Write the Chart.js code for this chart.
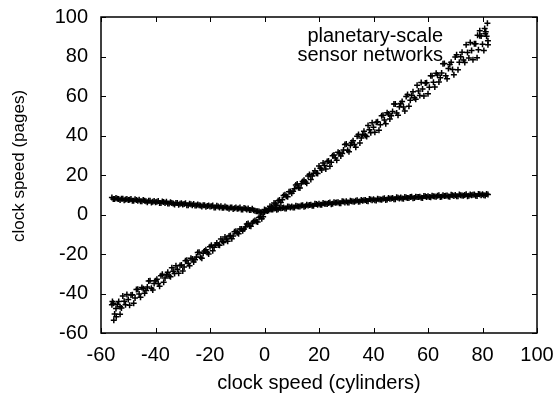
<!DOCTYPE html>
<html>
<head>
<meta charset="utf-8">
<script src="https://cdn.jsdelivr.net/npm/chart.js@4.4.1/dist/chart.umd.min.js"></script>
<style>
  html, body { margin: 0; padding: 0; background: #fff; }
  #wrap { width: 557px; height: 394px; position: relative; }
</style>
</head>
<body>
<div id="wrap"><canvas id="plot"></canvas></div>
<script>
// flat "V" shaped band
const lowX = [-56,-55,-54,-53,-52,-51,-50,-49,-48,-47,-46,-45,-44,-43,-42,-41,-40,-39,-38,-37,
  -36,-35,-34,-33,-32,-31,-30,-29,-28,-27,-26,-25,-24,-23,-22,-21,-20,-19,-18,-17,
  -16,-15,-14,-13,-12,-11,-10,-9,-8,-7,-6,-5,-4,-3,-2,-1,
  0,1,2,3,4,5,6,7,8,9,10,11,12,13,14,15,16,17,18,19,20,21,22,23,24,25,26,27,28,29,
  30,31,32,33,34,35,36,37,38,39,40,41,42,43,44,45,46,47,48,49,50,51,52,53,54,55,56,57,58,59,
  60,61,62,63,64,65,66,67,68,69,70,71,72,73,74,75,76,77,78,79,80,81,82];
const lowY = [8.6,7.8,8.0,7.3,8.0,7.6,7.3,7.9,6.9,7.4, 7.5,6.7,6.9,6.2,6.9,6.5,6.2,6.8,5.8,6.3,
  6.4,5.6,5.8,5.1,5.8,5.4,5.1,5.7,4.7,5.2, 5.3,4.5,4.7,4.0,4.7,4.3,4.0,4.6,3.6,4.1,
  4.2,3.4,3.6,2.9,3.6,3.2,2.9,3.5,2.5,3.0, 3.1,2.3,2.2,1.6,1.5,1.0,
  2.5,2.0,2.6,2.5,3.2,2.7,3.2,3.5,3.0,3.9, 4.1,3.5,4.2,4.0,4.7,4.2,4.6,5.0,4.4,5.3,
  5.5,4.9,5.5,5.3,6.1,5.5,5.9,6.2,5.7,6.6, 6.7,6.1,6.7,6.5,7.2,6.6,7.0,7.3,6.7,7.6,
  7.7,7.1,7.7,7.5,8.2,7.6,8.0,8.3,7.7,8.5, 8.6,8.0,8.6,8.4,9.0,8.4,8.8,9.0,8.4,9.3,
  9.3,8.7,9.3,9.0,9.7,9.0,9.4,9.6,9.0,9.8, 9.9,9.2,9.8,9.5,10.2,9.5,9.8,10.1,9.4,10.2,
  10.3,9.6,10.1];
const lowHalfX = [-55.5,-54.5,-53.5,-52.5,-51.5,-50.5,-49.5,-48.5,-47.5,-46.5,
  -45.5,-44.5,-43.5,-42.5,-41.5,-40.5,-39.5,-38.5,-37.5,-36.5,
  -35.5,-34.5,-33.5,-32.5,-31.5,-30.5,-29.5,-28.5,-27.5,-26.5,
  -25.5,-24.5,-23.5,-22.5,-21.5,-20.5,-19.5,-18.5,-17.5,-16.5,
  -15.5,-14.5,-13.5,-12.5,-11.5,-10.5,-9.5,-8.5,-7.5,-6.5,
  -5.5,-4.5,-3.5,-2.5,-1.5,-0.5,
  0.5,1.5,2.5,3.5,4.5,5.5,6.5,7.5,8.5,9.5, 10.5,11.5,12.5,13.5,14.5,15.5,16.5,17.5,18.5,19.5,
  20.5,21.5,22.5,23.5,24.5,25.5,26.5,27.5,28.5,29.5, 30.5,31.5,32.5,33.5,34.5,35.5,36.5,37.5,38.5,39.5,
  40.5,41.5,42.5,43.5,44.5,45.5,46.5,47.5,48.5,49.5, 50.5,51.5,52.5,53.5,54.5,55.5,56.5,57.5,58.5,59.5,
  60.5,61.5,62.5,63.5,64.5,65.5,66.5,67.5,68.5,69.5, 70.5,71.5,72.5,73.5,74.5,75.5,76.5,77.5,78.5,79.5,
  80.5,81.5];
const lowHalfY = [7.8,8.4,7.8,8.0,7.2,7.9,7.5,6.9,7.7,6.9, 6.7,7.3,6.7,6.9,6.1,6.8,6.4,5.8,6.6,5.8,
  5.6,6.2,5.6,5.8,5.0,5.7,5.3,4.7,5.5,4.7, 4.5,5.1,4.5,4.7,3.9,4.6,4.2,3.6,4.4,3.6,
  3.4,4.0,3.4,3.6,2.8,3.5,3.1,2.5,3.3,2.5, 2.3,2.9,1.9,1.7,1.2,1.0,
  2.0,2.8,2.5,3.0,2.4,3.4,3.3,3.0,4.0,3.5, 3.5,4.4,4.0,4.5,3.9,4.9,4.8,4.4,5.5,4.9,
  4.9,5.8,5.4,5.8,5.2,6.2,6.1,5.7,6.7,6.1, 6.1,7.0,6.6,7.0,6.4,7.3,7.2,6.8,7.8,7.2,
  7.2,8.0,7.6,8.0,7.4,8.3,8.1,7.7,8.7,8.1, 8.1,8.9,8.4,8.8,8.2,9.0,8.9,8.5,9.4,8.8,
  8.8,9.5,9.1,9.5,8.8,9.7,9.5,9.1,10.0,9.4, 9.3,10.1,9.6,9.9,9.3,10.1,10.0,9.5,10.4,9.8,
  9.7,10.4];

// steep diagonal band
const highX = [-56,-55,-54,-53,-52,-51,-50,-49,-48,-47,-46,-45,-44,-43,-42,-41,-40,-39,-38,-37,
  -36,-35,-34,-33,-32,-31,-30,-29,-28,-27,-26,-25,-24,-23,-22,-21,-20,-19,-18,-17,
  -16,-15,-14,-13,-12,-11,-10,-9,-8,-7,-6,-5,-4,-3,-2,-1,
  0,1,2,3,4,5,6,7,8,9,10,11,12,13,14,15,16,17,18,19,20,21,22,23,24,25,26,27,28,29,
  30,31,32,33,34,35,36,37,38,39,40,41,42,43,44,45,46,47,48,49,50,51,52,53,54,55,56,57,58,59,
  60,61,62,63,64,65,66,67,68,69,70,71,72,73,74,75,76,77,78,79,80,81,82];
const highY = [-45.7,-50.4,-45.6,-46.7,-41.3,-45.7,-43.0,-40.7,-44.9,-38.0,
  -40.3,-37.0,-39.9,-36.7,-33.6,-38.2,-33.6,-34.9,-31.0,-34.3,
  -30.5,-31.1,-26.9,-29.9,-27.7,-25.8,-28.6,-23.4,-24.8,-22.2,
  -24.0,-21.5,-19.1,-22.1,-18.5,-19.2,-16.3,-18.3,-15.4,-15.5,
  -12.4,-14.2,-12.4,-10.9,-12.3,-8.7,-9.3,-7.4,-8.2,-6.3,
  -4.5,-5.9,-3.5,-3.5,-1.5,-2.2,
  1.2,1.8,4.2,3.6,5.3,6.9,6.1,9.6,9.3,11.5,
  10.8,13.0,15.4,13.4,16.7,16.4,19.5,17.7,20.9,20.9,
  24.6,22.5,24.8,26.8,24.4,29.8,28.6,31.5,29.6,32.6,
  35.7,31.8,36.5,35.4,39.6,36.2,40.5,40.0,45.1,41.4,
  44.2,46.7,42.7,50.0,47.8,51.5,48.4,52.2,56.0,50.3,
  56.2,54.4,59.7,54.8,60.2,59.1,65.5,60.3,63.6,66.6,
  61.1,70.2,67.0,71.5,67.1,71.7,76.4,68.7,76.0,73.4,
  79.8,73.3,79.9,78.2,86.0,79.2,83.1,86.5,79.4,90.5,
  86.2,91.5,85.9];
const highHalfX = lowHalfX.slice();
const highHalfY = [-44.9,-47.6,-44.0,-47.4,-43.9,-40.5,-45.9,-40.6,-42.3,-37.9,
  -41.9,-37.6,-38.5,-33.7,-37.4,-34.9,-32.8,-36.3,-30.3,-32.1,
  -29.2,-31.5,-28.7,-25.9,-29.7,-25.6,-26.6,-23.2,-25.9,-22.5,
  -22.9,-19.2,-21.6,-19.6,-17.9,-20.0,-15.6,-16.6,-14.4,-15.6,
  -13.5,-11.4,-13.5,-10.6,-10.9,-8.5,-9.8,-7.4,-7.3,-4.8,
  -5.8,-4.3,-3.0,-3.8,-1.0,-1.1,
  2.1,2.0,3.8,5.8,4.7,7.3,7.5,10.0,9.0,11.6, 11.8,15.0,13.6,15.6,17.4,15.8,20.2,19.5,22.1,20.7,
  23.4,26.1,23.1,27.1,26.4,30.1,27.5,31.2,30.9,35.4, 32.5,35.0,37.3,34.1,40.5,38.7,42.1,39.5,42.9,46.4,
  41.6,46.9,45.4,50.2,46.0,50.9,50.0,55.9,51.4,54.5, 57.2,52.4,60.7,57.9,62.1,58.3,62.5,66.8,60.0,66.7,
  64.4,70.3,64.6,70.6,69.2,76.3,70.2,73.9,77.1,70.7, 80.9,77.1,82.1,77.0,82.0,87.1,78.4,86.5,83.4,90.4,
  83.1,90.2];
const highEndX = [81.8, 80.8, 81.2, 79.0, 82.0, 78.2, -55.3, -54.4, -55.8, -53.0];
const highEndY = [96.8, 94.2, 92.5, 93.0, 88.0, 90.8, -53.6, -51.8, -44.0, -50.5];

const xTitle = 'clock speed (cylinders)';
const yTitle = 'clock speed (pages)';
const noteLines = ['planetary-scale', 'sensor networks'];

const fontFamily = '"Liberation Sans", Arial, Helvetica, sans-serif';

function pairs(xs, ys) {
  return xs.map((x, i) => ({ x: x, y: ys[i] }));
}

const framePlugin = {
  id: 'framePlugin',
  afterDraw(chart) {
    const ctx = chart.ctx;
    const a = chart.chartArea;
    const xs = chart.scales.x;
    const ys = chart.scales.y;
    ctx.save();
    ctx.strokeStyle = '#000';
    ctx.lineWidth = 1;
    ctx.beginPath();
    xs.ticks.forEach(t => {
      const px = Math.round(xs.getPixelForValue(t.value)) + 0.5;
      ctx.moveTo(px, a.bottom); ctx.lineTo(px, a.bottom - 5);
      ctx.moveTo(px, a.top); ctx.lineTo(px, a.top + 5);
    });
    ys.ticks.forEach(t => {
      const py = Math.round(ys.getPixelForValue(t.value)) + 0.5;
      ctx.moveTo(a.left, py); ctx.lineTo(a.left + 5, py);
      ctx.moveTo(a.right, py); ctx.lineTo(a.right - 5, py);
    });
    ctx.stroke();
    ctx.lineWidth = 1.5;
    ctx.strokeRect(a.left, a.top, a.right - a.left, a.bottom - a.top);

    ctx.fillStyle = '#000';
    ctx.font = '20px ' + fontFamily;
    ctx.textAlign = 'center';
    ctx.textBaseline = 'alphabetic';
    ctx.fillText(xTitle, (a.left + a.right) / 2, 389);

    ctx.font = '17px ' + fontFamily;
    ctx.save();
    ctx.translate(24, 166);
    ctx.rotate(-Math.PI / 2);
    ctx.fillText(yTitle, 0, 0);
    ctx.restore();

    ctx.font = '20px ' + fontFamily;
    ctx.textAlign = 'right';
    ctx.fillText(noteLines[0], 443, 42);
    ctx.fillText(noteLines[1], 443, 61);
    ctx.restore();
  }
};

function crossStyle(w) {
  return {
    showLine: false,
    pointStyle: 'cross',
    pointRadius: 3,
    pointHoverRadius: 3,
    pointBorderWidth: w,
    borderColor: '#000',
    backgroundColor: '#000'
  };
}

new Chart(document.getElementById('plot'), {
  type: 'scatter',
  data: {
    datasets: [
      Object.assign({ label: 'low', data: pairs(lowX, lowY).concat(pairs(lowHalfX, lowHalfY)) }, crossStyle(1.5)),
      Object.assign({ label: 'high', data: pairs(highX, highY).concat(pairs(highHalfX, highHalfY), pairs(highEndX, highEndY)) }, crossStyle(1.5))
    ]
  },
  options: {
    responsive: true,
    maintainAspectRatio: false,
    animation: false,
    events: [],
    layout: { padding: { left: 0, right: 20, top: 17, bottom: 0 } },
    plugins: {
      legend: { display: false },
      tooltip: { enabled: false }
    },
    scales: {
      x: {
        type: 'linear',
        min: -60, max: 100,
        grid: { display: false, drawTicks: false },
        border: { display: false },
        ticks: { stepSize: 20, color: '#000', padding: 10, maxRotation: 0, font: { family: fontFamily, size: 20 } },
        afterFit: s => { s.height = 61; s.paddingLeft = 0; s.paddingRight = 0; }
      },
      y: {
        type: 'linear',
        min: -60, max: 100,
        grid: { display: false, drawTicks: false },
        border: { display: false },
        ticks: { stepSize: 20, color: '#000', padding: 13, font: { family: fontFamily, size: 20 } },
        afterFit: s => { s.width = 101; s.paddingTop = 0; s.paddingBottom = 0; }
      }
    }
  },
  plugins: [framePlugin]
});
</script>
</body>
</html>
